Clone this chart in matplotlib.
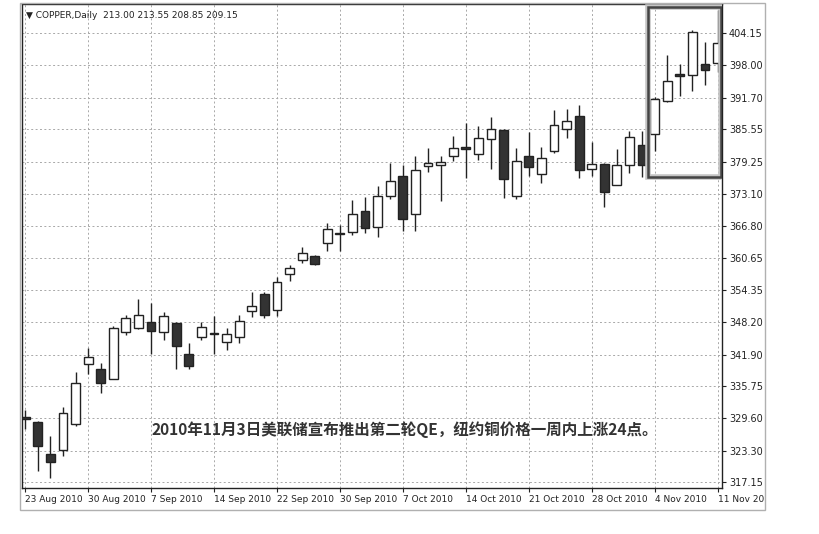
import matplotlib.pyplot as plt
from matplotlib.patches import Rectangle
from matplotlib.transforms import Bbox, TransformedBbox
import numpy as np

plt.rcParams['font.family'] = ['DejaVu Sans']

# daily OHLC (bar 0 = 23 Aug 2010)
opens = [329.8, 328.8, 322.7, 323.4, 328.5, 340.0, 339.2, 337.2, 346.2, 347.0,
         348.3, 346.2, 348.1, 342.0, 345.3, 346.0, 344.3, 345.3, 350.4, 353.6,
         350.6, 357.5, 360.2, 361.0, 363.6, 365.3, 365.6, 369.7, 366.7, 372.6,
         376.5, 369.1, 378.5, 378.6, 380.4, 382.0, 380.8, 383.7, 385.4, 372.7,
         380.3, 376.8, 381.4, 385.7, 388.2, 377.8, 378.8, 374.8, 378.6, 382.6,
         384.6, 391.0, 396.2, 396.0, 398.2, 398.4]
highs = [331.2, 329.1, 326.2, 331.8, 338.5, 343.2, 340.2, 347.5, 349.6, 352.7,
         351.9, 350.2, 348.3, 344.1, 348.3, 349.3, 347.0, 349.6, 354.0, 354.0,
         356.9, 359.3, 362.7, 361.1, 367.4, 367.1, 371.8, 372.4, 374.5, 379.1,
         378.6, 380.3, 382.0, 380.3, 384.2, 386.7, 386.2, 388.0, 385.7, 381.9,
         385.1, 382.1, 389.2, 389.5, 390.2, 383.1, 379.0, 381.8, 385.2, 385.2,
         391.8, 399.9, 398.2, 404.8, 402.4, 408.6]
lows = [327.4, 319.3, 318.0, 322.2, 328.0, 338.1, 334.4, 337.1, 345.6, 346.8,
        342.0, 344.8, 339.2, 339.2, 344.8, 342.0, 342.8, 344.1, 349.1, 348.9,
        349.3, 356.2, 359.7, 359.2, 362.0, 362.0, 365.1, 365.4, 364.6, 372.0,
        365.8, 365.8, 377.3, 371.7, 379.5, 376.1, 379.6, 377.8, 372.2, 372.0,
        376.6, 375.2, 380.9, 383.9, 376.2, 376.6, 370.4, 374.7, 377.0, 376.3,
        381.3, 390.8, 392.0, 392.9, 394.1, 396.7]
closes = [329.5, 324.2, 321.1, 330.6, 336.4, 341.5, 336.3, 347.0, 348.9, 349.6,
          346.5, 349.3, 343.5, 339.7, 347.3, 345.8, 345.8, 348.4, 351.4, 349.6,
          355.9, 358.6, 361.5, 359.5, 366.2, 365.2, 369.1, 366.5, 372.7, 375.5,
          368.1, 377.6, 379.1, 379.2, 382.0, 381.8, 383.9, 385.7, 375.9, 379.4,
          378.2, 379.9, 386.3, 387.1, 377.6, 378.8, 373.4, 378.6, 384.1, 378.6,
          391.4, 395.0, 395.8, 404.4, 397.0, 402.2]

date_labels = ['23 Aug 2010', '30 Aug 2010', '7 Sep 2010', '14 Sep 2010', '22 Sep 2010',
               '30 Sep 2010', '7 Oct 2010', '14 Oct 2010', '21 Oct 2010', '28 Oct 2010',
               '4 Nov 2010', '11 Nov 2010']
price_ticks = [404.15, 398.00, 391.70, 385.55, 379.25, 373.10, 366.80, 360.65,
               354.35, 348.20, 341.90, 335.75, 329.60, 323.30, 317.15]

W, H = 819, 534
fig = plt.figure(figsize=(W / 100, H / 100), dpi=100)
fig.patch.set_facecolor('white')
ax = fig.add_axes([22 / W, 1 - 488 / H, 700 / W, 484 / H])

o = np.array(opens)
c = np.array(closes)
x = np.arange(len(o))
up = c >= o
body_bottom = np.minimum(o, c)
body_h = np.maximum(np.abs(c - o), 0.25)

ax.vlines(x, lows, highs, color='#222222', lw=1, zorder=2)
ax.bar(x[up], body_h[up], 0.7, bottom=body_bottom[up], color='white',
       edgecolor='#222222', lw=1, zorder=3)
ax.bar(x[~up], body_h[~up], 0.7, bottom=body_bottom[~up], color='#333333',
       edgecolor='#222222', lw=1, zorder=3)

ax.set_xlim(-0.25, 55.35)
ax.set_ylim(316.05, 409.83)

# grid
xt = np.arange(0, len(date_labels) * 5, 5)
ax.set_xticks(xt)
ax.set_xticklabels(date_labels, ha='left', fontsize=6.5, color='#222222')
ax.set_yticks(price_ticks)
ax.set_yticklabels(['%.2f' % p for p in price_ticks], fontsize=7, color='#222222')
ax.yaxis.tick_right()
ax.tick_params(axis='both', direction='out', length=3, width=0.8, color='#222222', pad=2)
ax.grid(True, color='#a8a8a8', lw=0.7, linestyle=(0, (2, 2.5)))
ax.set_axisbelow(True)
for s in ax.spines.values():
    s.set_color('#222222')
    s.set_linewidth(1)

ax.text(0.006, 0.985, '\u25bc COPPER,Daily  213.00 213.55 208.85 209.15',
        transform=ax.transAxes, va='top', ha='left', fontsize=6.5, color='#222222')

# highlight box around the QE2 week
ax.add_patch(Rectangle((49.45, 376.3), 5.85, 33.0, fill=False, ec='#c4c4c4', lw=4, zorder=4))
ax.add_patch(Rectangle((49.45, 376.3), 5.85, 33.0, fill=False, ec='#444444', lw=1.8, zorder=5))

fig.text(405 / W, 1 - 430 / H,
         '2010年11月3日美联储宣布推出第二轮QE，纽约铜价格一周内上涨24点。',
         ha='center', va='center', fontsize=11.2, fontweight='bold', color='#333333',
         family=['Noto Sans CJK SC', 'DejaVu Sans'])

# chart window frame
frame = Rectangle((20 / W, 1 - 510 / H), 745 / W, 507 / H,
                  transform=fig.transFigure, fill=False, ec='#b0b0b0', lw=1)
fig.add_artist(frame)

# the last date label is cut by the window edge
clip = TransformedBbox(Bbox([[20 / W, 0], [764 / W, 1]]), fig.transFigure)
for lab in ax.get_xticklabels():
    lab.set_clip_box(clip)
    lab.set_clip_on(True)

fig.savefig('out.png', dpi=100)
